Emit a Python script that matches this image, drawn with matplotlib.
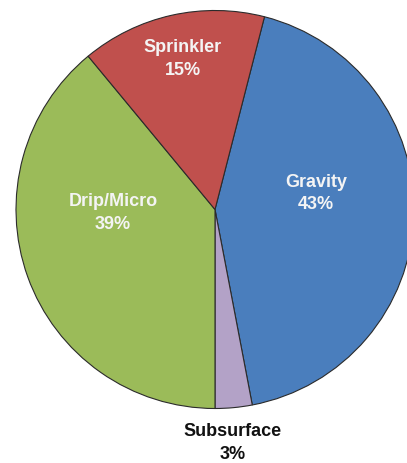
import numpy as np
import matplotlib.pyplot as plt

plt.rcParams['font.family'] = ['Liberation Sans', 'DejaVu Sans']

# data
categories = ["Gravity", "Subsurface", "Drip/Micro", "Sprinkler"]
shares = [43, 3, 39, 15]
colors = ["#4A7EBD", "#B3A2C7", "#9BBB59", "#C0504D"]
text_colors = ["#F4F4F4", "#111111", "#F4F4F4", "#F4F4F4"]

# label placement: (distance as fraction of radius, angle clockwise from top, deg)
label_pos = [(0.515, 80.4), (1.172, 175.7), (0.513, 268.6), (0.779, 347.9)]

W, H = 407, 464
fig = plt.figure(figsize=(W / 100, H / 100), dpi=100)
ax = fig.add_axes([0, 0, 1, 1])

cx, cy, r = 215, H - 210.5, 199
# Drip/Micro begins at 6 o'clock; Gravity start derived from that
grav_start_cw = 180 + 360 * (shares[2] + shares[3]) / 100 - 360  # clockwise from top
startangle = 90 - grav_start_cw

ax.pie(shares, colors=colors, startangle=startangle, counterclock=False,
       center=(cx, cy), radius=r, frame=True,
       wedgeprops=dict(edgecolor="#2b2b2b", linewidth=0.8))
ax.set_xlim(0, W)
ax.set_ylim(0, H)
ax.set_aspect('equal')
ax.axis('off')

for name, val, tc, (d, a) in zip(categories, shares, text_colors, label_pos):
    th = np.deg2rad(a)
    x = cx + d * r * np.sin(th)
    y = cy + d * r * np.cos(th)
    ax.text(x, y, f"{name}\n{val}%", ha='center', va='center', color=tc,
            fontsize=13, fontweight='bold', linespacing=1.4)

fig.savefig("out.png", dpi=100)
